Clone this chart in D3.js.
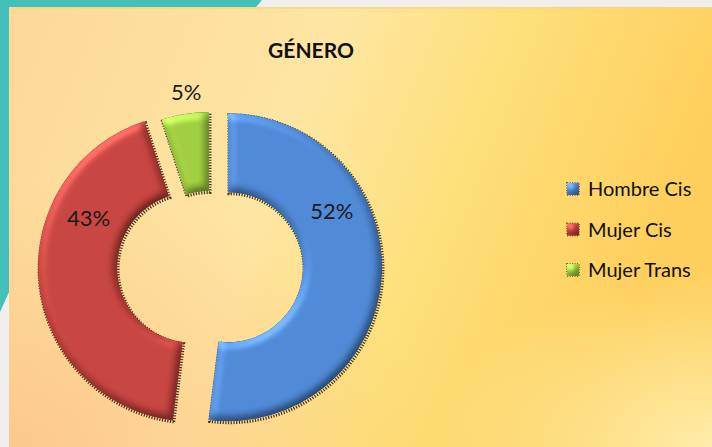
<!DOCTYPE html>
<html>
<head>
<meta charset="utf-8">
<script src="https://cdn.jsdelivr.net/npm/d3@7"></script>
<style>
  html, body { margin: 0; padding: 0; background: #f0efeb; }
  #chart { width: 712px; height: 447px; }
  text { font-family: Lato, 'Open Sans', sans-serif; }
</style>
</head>
<body>
<div id="chart"></div>
<script>
// Donut chart - GÉNERO

const categories = ['Hombre Cis', 'Mujer Cis', 'Mujer Trans'];
const values = [52, 43, 5];
const valueLabels = ['52%', '43%', '5%'];
const colors = ['#4a84d0', '#c2403b', '#9bc93c'];

// slice styling (explode distance, manual label spot)
const sliceStyle = {
    'Hombre Cis': { explode: 19, labelAngle: 61.7, labelRadius: 118 },
    'Mujer Cis': { explode: 17, labelAngle: 295.7, labelRadius: 115 },
    'Mujer Trans': { explode: 0, labelAngle: 352.5, labelRadius: 175 }
};

function renderDonut() {
    const width = 712, height = 447;
    const svg = d3.select('#chart').append('svg').attr('width', width).attr('height', height);
    const defs = svg.append('defs');

    // background gradients
    const bg = defs.append('linearGradient').attr('id', 'bg').attr('x1', 0).attr('y1', 0).attr('x2', 1).attr('y2', 0.25);
    [[0, '#fdd898'], [0.45, '#fee6a2'], [0.68, '#fee07c'], [1, '#fecf5c']].forEach(([o, c]) => bg.append('stop').attr('offset', o).attr('stop-color', c));
    const br = defs.append('radialGradient').attr('id', 'br').attr('cx', 1).attr('cy', 1).attr('r', 0.4);
    br.append('stop').attr('offset', 0).attr('stop-color', '#fff0b2').attr('stop-opacity', 0.9);
    br.append('stop').attr('offset', 1).attr('stop-color', '#fff0b2').attr('stop-opacity', 0);
    const bl = defs.append('radialGradient').attr('id', 'bl').attr('cx', 0).attr('cy', 1).attr('r', 0.6);
    bl.append('stop').attr('offset', 0).attr('stop-color', '#fcc488').attr('stop-opacity', 0.85);
    bl.append('stop').attr('offset', 1).attr('stop-color', '#fcc488').attr('stop-opacity', 0);

    // bevel filter for the slices
    const f = defs.append('filter').attr('id', 'bevel').attr('x', '-10%').attr('y', '-10%').attr('width', '120%').attr('height', '120%')
        .attr('color-interpolation-filters', 'sRGB');
    f.append('feGaussianBlur').attr('in', 'SourceAlpha').attr('stdDeviation', 4).attr('result', 'blur');
    f.append('feDiffuseLighting').attr('in', 'blur').attr('surfaceScale', 3).attr('diffuseConstant', 1).attr('lighting-color', '#fff').attr('result', 'diff')
        .append('feDistantLight').attr('azimuth', 235).attr('elevation', 60);
    f.append('feSpecularLighting').attr('in', 'blur').attr('surfaceScale', 3).attr('specularConstant', 0.5).attr('specularExponent', 20).attr('lighting-color', '#fff').attr('result', 'spec')
        .append('feDistantLight').attr('azimuth', 235).attr('elevation', 45);
    f.append('feComposite').attr('in', 'SourceGraphic').attr('in2', 'diff').attr('operator', 'arithmetic').attr('k1', 1.14).attr('k2', 0).attr('k3', 0).attr('k4', 0).attr('result', 'lit');
    f.append('feComposite').attr('in', 'spec').attr('in2', 'SourceAlpha').attr('operator', 'in').attr('result', 'specIn');
    f.append('feComposite').attr('in', 'lit').attr('in2', 'specIn').attr('operator', 'arithmetic').attr('k1', 0).attr('k2', 1).attr('k3', 0.3).attr('k4', 0);

    // frame: grey base, teal strip, panel
    svg.append('rect').attr('width', width).attr('height', height).attr('fill', '#f0efeb');
    svg.append('path').attr('d', 'M0,0 L262,0 L256,7 L9,7 L9,292 L0,312 Z').attr('fill', '#43c0b9');
    svg.append('rect').attr('x', 9).attr('y', 7).attr('width', width - 9).attr('height', height - 7).attr('fill', 'url(#bg)');
    svg.append('rect').attr('x', 9).attr('y', 7).attr('width', width - 9).attr('height', height - 7).attr('fill', 'url(#br)');
    svg.append('rect').attr('x', 9).attr('y', 7).attr('width', width - 9).attr('height', height - 7).attr('fill', 'url(#bl)');
    svg.append('rect').attr('x', 9).attr('y', 7).attr('width', width - 9).attr('height', 2).attr('fill', '#fcd27a').attr('opacity', 0.6);

    svg.append('text').attr('x', 311).attr('y', 51).attr('text-anchor', 'middle').attr('dy', '0.35em')
        .style('font-weight', 'bold').style('font-size', '21px').style('fill', '#111').text('GÉNERO');

    const data = categories.map((c, i) => ({ category: c, value: values[i], label: valueLabels[i], color: colors[i] }));
    const pie = d3.pie().sort(null).value(d => d.value);
    const outerR = 154, innerR = 75;
    const arc = d3.arc().innerRadius(innerR).outerRadius(outerR);
    const g = svg.append('g').attr('transform', 'translate(209,266)');

    const slices = g.selectAll('g.slice').data(pie(data)).enter().append('g').attr('class', 'slice')
        .attr('transform', d => {
            const mid = (d.startAngle + d.endAngle) / 2;
            const e = sliceStyle[d.data.category].explode;
            return `translate(${Math.sin(mid) * e},${-Math.cos(mid) * e})`;
        });

    // dotted dark edge (shadow)
    slices.append('path').attr('d', arc)
        .attr('fill', 'none').attr('stroke', 'rgba(40,20,5,0.85)').attr('stroke-width', 3).attr('stroke-dasharray', '1.2 1.5')
        .attr('transform', 'translate(1,1.5)');
    slices.append('path').attr('d', arc).attr('fill', d => d.data.color).attr('filter', 'url(#bevel)');

    slices.append('text')
        .attr('x', d => {
            const s = sliceStyle[d.data.category];
            return Math.sin(s.labelAngle * Math.PI / 180) * s.labelRadius;
        })
        .attr('y', d => {
            const s = sliceStyle[d.data.category];
            return -Math.cos(s.labelAngle * Math.PI / 180) * s.labelRadius;
        })
        .attr('dy', '0.36em').attr('text-anchor', 'middle')
        .style('font-size', '22px').style('fill', '#1a1a1a')
        .text(d => d.data.label);

    // legend
    const ly = d3.scalePoint().domain(categories).range([189, 270]);
    const legend = svg.selectAll('g.legend').data(data).enter().append('g').attr('class', 'legend')
        .attr('transform', d => `translate(567,${ly(d.category)})`);
    legend.append('rect').attr('x', 0).attr('y', -6).attr('width', 12).attr('height', 12)
        .attr('fill', 'none').attr('stroke', 'rgba(45,25,5,0.6)').attr('stroke-width', 2).attr('stroke-dasharray', '1 1.5');
    legend.append('rect').attr('x', 0).attr('y', -6).attr('width', 12).attr('height', 12)
        .attr('fill', d => d.color).attr('filter', 'url(#bevel)');
    legend.append('text').attr('x', 21).attr('dy', '0.35em')
        .style('font-size', '20px').style('fill', '#111').text(d => d.category);
}

renderDonut();
</script>
</body>
</html>
